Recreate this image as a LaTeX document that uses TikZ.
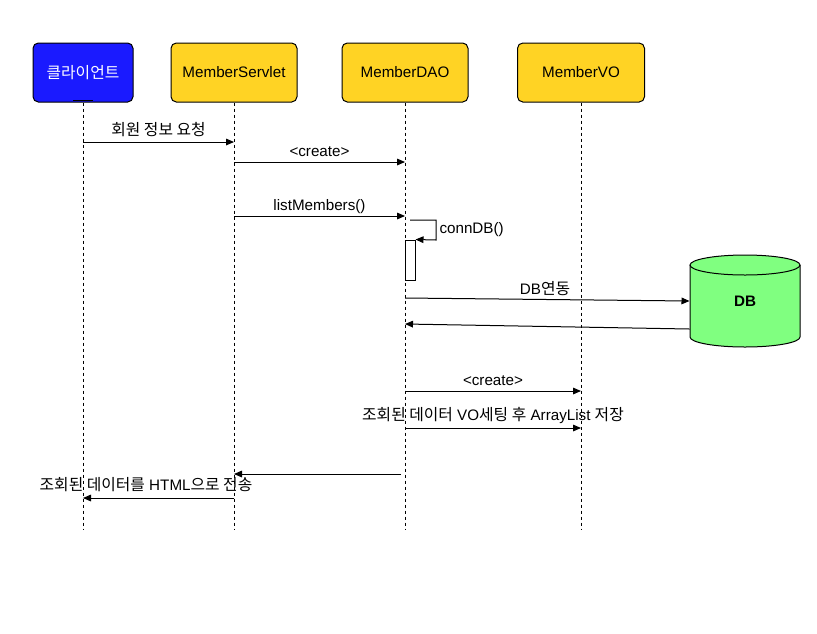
\documentclass[tikz,border=0pt]{standalone}
\usepackage{fontspec}
\setmainfont{Liberation Sans}
\newfontfamily\kr[Scale=1.04]{Noto Sans CJK KR}
\usetikzlibrary{arrows.meta,calc}
\definecolor{cblue}{HTML}{1A1AFF}
\definecolor{cyel}{HTML}{FFD324}
\definecolor{cgreen}{HTML}{80FF80}
\begin{document}
\begin{tikzpicture}[x=0.75pt,y=-0.75pt,line width=0.75pt,
  font=\fontsize{11.4}{13}\selectfont,
  actor/.style={draw=black,rounded corners=4pt,minimum height=44.25pt,inner sep=0pt},
  lifeline/.style={dash pattern=on 2.25pt off 2.25pt},
  msg/.style={-{Triangle[length=6pt,width=5pt]}},
  lbl/.style={anchor=base,inner sep=0pt}]
\useasboundingbox (0,0) rectangle (817,633);
% participants
\node[actor,fill=cblue,text=white,minimum width=75pt] (cl) at (83,72.5) {\kr 클라이언트};
\node[actor,fill=cyel,minimum width=94.5pt] (sv) at (234,72.5) {MemberServlet};
\node[actor,fill=cyel,minimum width=94.5pt] (dao) at (405,72.5) {MemberDAO};
\node[actor,fill=cyel,minimum width=95.25pt] (vo) at (581,72.5) {MemberVO};
\draw[line width=1.2pt] (73,100.3) -- (93,100.3);
% lifelines
\coordinate (clE) at (83,530);
\coordinate (svE) at (234,530);
\coordinate (daoE) at (405,530);
\coordinate (voE) at (581,530);
\draw[lifeline] (cl.south) -- (clE);
\draw[lifeline] (sv.south) -- (svE);
\draw[lifeline] (dao.south) -- (daoE);
\draw[lifeline] (vo.south) -- (voE);
% activation
\node[draw,fill=white,minimum width=7.5pt,minimum height=30pt,inner sep=0pt] (act) at (410,260) {};
% DB cylinder
\fill[cgreen] (690,265) -- (690,337) arc[start angle=180,end angle=360,x radius=41.25pt,y radius=7.5pt] -- (800,265) arc[start angle=0,end angle=180,x radius=41.25pt,y radius=7.5pt] -- cycle;
\draw (690,265) -- (690,337) arc[start angle=180,end angle=360,x radius=41.25pt,y radius=7.5pt] -- (800,265);
\draw (745,265) ellipse[x radius=41.25pt,y radius=7.5pt];
\node[minimum width=82.5pt,minimum height=69pt,inner sep=0pt,font=\fontsize{11.4}{13}\selectfont\bfseries] (db) at (745,301) {DB};
% messages
\draw[msg] (cl.south |- 0,142) -- (sv.south |- 0,142);
\node[lbl] at (158.5,135) {\kr 회원 정보 요청};
\draw[msg] (sv.south |- 0,162) -- (dao.south |- 0,162);
\node[lbl] at (319.5,156.5) {<create>};
\draw[msg] (sv.south |- 0,216) -- (dao.south |- 0,216);
\node[lbl] at (319.5,210.5) {listMembers()};
\draw[msg] (act.north |- 0,220) -- (436,220) -- (436,240) -- (act.north east);
\node[lbl,anchor=base west] at (439,233.5) {connDB()};
\draw[msg] (dao.south |- 0,298) -- (db.west);
\node[lbl] at (545,294) {DB{\kr 연동}};
\draw[msg] (db.west |- 0,329) -- (dao.south |- 0,324);
\draw[msg] (dao.south |- 0,391) -- (vo.south |- 0,391);
\node[lbl] at (493,385.5) {<create>};
\draw[msg] (dao.south |- 0,428) -- (vo.south |- 0,428);
\node[lbl] at (493,420) {{\kr 조회된 데이터} VO{\kr 세팅 후} ArrayList {\kr 저장}};
\draw[msg] ([xshift=-3pt]dao.south |- 0,474) -- (sv.south |- 0,474);
\draw[msg] (sv.south |- 0,498) -- (cl.south |- 0,498);
\node[lbl] at (146,490) {{\kr 조회된 데이터를} HTML{\kr 으로 전송}};
\end{tikzpicture}
\end{document}
